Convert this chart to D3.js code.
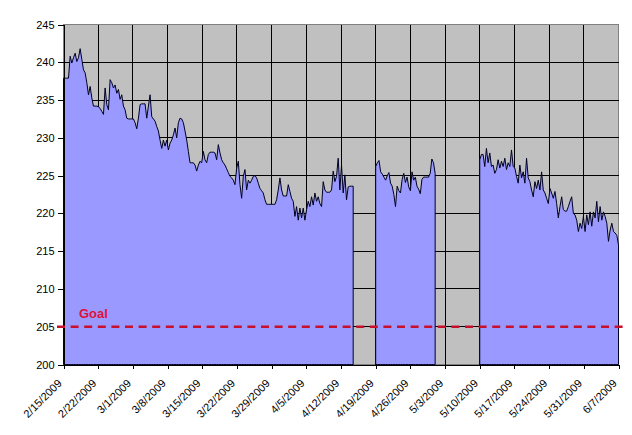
<!DOCTYPE html>
<html>
<head>
<meta charset="utf-8">
<script src="https://cdn.jsdelivr.net/npm/d3@7"></script>
<style>
    body { margin: 0; background: #fff; }
    text { font-family: Arial, "Liberation Sans", sans-serif; }
</style>
</head>
<body>
<div id="chart"></div>
<script>
// weight readings, about three a day
const seg1Weights = [
    237.9, 237.9, 237.9, 237.9, 240.8, 239.9, 240.6, 241.2, 240.1, 240.6,
    241.8, 240.4, 239.0, 238.6, 237.3, 235.7, 236.8, 235.3, 234.2, 234.2,
    234.2, 234.1, 233.9, 233.5, 233.1, 236.6, 234.4, 233.7, 237.7, 237.3,
    236.6, 237.0, 235.9, 236.4, 235.1, 235.7, 234.2, 233.7, 232.6, 232.5,
    232.5, 232.5, 232.5, 232.0, 231.2, 232.6, 234.4, 234.5, 234.5, 234.5,
    232.6, 234.2, 235.7, 232.8, 232.5, 232.2, 231.5, 230.9, 229.7, 228.6,
    229.7, 228.9, 229.7, 228.4, 229.3, 229.7, 230.4, 231.3, 230.0, 232.0,
    232.6, 232.5, 232.0, 230.9, 229.7, 228.2, 226.7, 226.7, 226.7,
    226.4, 225.6, 226.4, 226.9, 226.7, 228.2, 227.1, 226.7, 227.8, 228.1,
    228.1, 228.1, 228.0, 227.1, 229.1, 228.0, 227.1, 226.7, 226.4, 225.9,
    225.4, 224.9, 224.7, 224.4, 223.8, 226.0, 226.9, 223.8, 222.0, 224.9,
    225.8, 223.1, 224.4, 224.0, 224.4, 224.9, 225.0, 224.7, 224.0, 223.3,
    223.0, 222.7, 221.8, 221.2, 221.2, 221.2, 221.2, 221.2, 221.2, 221.8,
    223.1, 224.7, 223.1, 222.3, 222.3, 222.3, 223.8, 222.9, 222.0, 221.6,
    219.6, 220.9, 219.1, 220.7, 219.4, 220.7, 219.1, 220.5, 221.6, 220.9,
    222.2, 221.1, 222.7, 221.6, 222.2, 221.3, 220.9, 224.2, 223.1, 222.8,
    222.8, 222.8, 223.1, 225.6, 224.2, 224.9, 227.3, 223.1, 226.4, 222.7,
    225.1, 221.8, 223.5, 223.6, 223.6, 223.6
];
const seg2Weights = [
    226.2, 226.7, 227.0, 225.5, 225.2, 224.8, 224.4, 225.0, 225.4, 224.0,
    223.6, 222.5, 220.9, 223.6, 223.0, 222.7, 224.5, 225.3, 224.1, 224.8,
    223.5, 223.0, 225.5, 224.4, 224.8, 223.6, 223.2, 222.6, 224.5, 224.8,
    224.8, 224.8, 224.8, 225.3, 227.2, 226.7, 225.3
];
const seg3Weights = [
    227.1, 227.8, 227.8, 226.2, 228.6, 226.7, 228.0, 226.2, 226.4, 225.3,
    225.8, 227.1, 226.0, 226.9, 226.2, 227.3, 225.8, 226.7, 226.2, 228.4,
    226.2, 226.0, 224.9, 224.0, 226.4, 224.7, 225.5, 224.0, 227.3, 224.7,
    224.2, 223.1, 222.2, 224.2, 223.3, 224.4, 223.1, 225.5, 223.1, 222.7,
    222.0, 221.3, 223.3, 222.7, 222.0, 222.9, 221.3, 219.4, 220.9, 222.2,
    220.5, 220.3, 220.3, 220.9, 221.6, 222.2, 220.0, 219.8, 219.1, 217.6,
    218.7, 218.0, 219.6, 217.6, 219.8, 218.5, 220.2, 218.3, 220.2, 219.4,
    221.6, 218.9, 220.9, 219.1, 220.2, 219.6, 218.7, 216.3, 217.8, 218.7,
    217.6, 217.4, 217.1, 215.8
];
// first and last reading of each stretch
const segStarts = ["2009-02-15T00:00", "2009-04-19T00:00", "2009-05-10T00:00"];
const segEnds = ["2009-04-14T11:00", "2009-05-01T00:00", "2009-06-07T00:00"];

const xTickLabels = ["2/15/2009", "2/22/2009", "3/1/2009", "3/8/2009", "3/15/2009", "3/22/2009",
    "3/29/2009", "4/5/2009", "4/12/2009", "4/19/2009", "4/26/2009", "5/3/2009", "5/10/2009",
    "5/17/2009", "5/24/2009", "5/31/2009", "6/7/2009"];
const yTicks = [200, 205, 210, 215, 220, 225, 230, 235, 240, 245];
const goal = 205;

(function () {
    const parseTick = d3.utcParse("%m/%d/%Y");
    const parseTime = d3.utcParse("%Y-%m-%dT%H:%M");

    var margin = {top: 24.5, left: 63.5, right: 618.5, bottom: 364.5};

    var svg = d3.select("#chart").append("svg")
        .attr("width", 632)
        .attr("height", 435);

    var x = d3.scaleUtc()
        .domain([parseTick(xTickLabels[0]), parseTick(xTickLabels[xTickLabels.length - 1])])
        .range([margin.left, margin.right]);
    var y = d3.scaleLinear()
        .domain([200, 245])
        .range([margin.bottom, margin.top]);

    // build the point lists, readings spread evenly inside each stretch
    const segments = [seg1Weights, seg2Weights, seg3Weights].map((vals, s) => {
        const t0 = parseTime(segStarts[s]).getTime();
        const t1 = parseTime(segEnds[s]).getTime();
        return vals.map((v, i) => ({
            date: new Date(t0 + (t1 - t0) * i / (vals.length - 1)),
            weight: v
        }));
    });

    // plot background
    svg.append("rect")
        .attr("x", margin.left)
        .attr("y", margin.top)
        .attr("width", margin.right - margin.left)
        .attr("height", margin.bottom - margin.top)
        .style("fill", "#c0c0c0")
        .style("stroke", "#808080")
        .style("shape-rendering", "crispEdges");

    // grid lines
    const grid = svg.append("g").style("shape-rendering", "crispEdges");
    grid.selectAll(".vgrid")
        .data(xTickLabels.slice(1, -1))
        .enter().append("line")
        .attr("x1", d => x(parseTick(d)))
        .attr("x2", d => x(parseTick(d)))
        .attr("y1", margin.top)
        .attr("y2", margin.bottom)
        .style("stroke", "#000");
    grid.selectAll(".hgrid")
        .data(yTicks.slice(1, -1))
        .enter().append("line")
        .attr("x1", margin.left)
        .attr("x2", margin.right)
        .attr("y1", d => y(d))
        .attr("y2", d => y(d))
        .style("stroke", "#000");

    var area = d3.area()
        .x(d => x(d.date))
        .y0(y(200))
        .y1(d => y(d.weight));

    svg.selectAll(".area")
        .data(segments)
        .enter().append("path")
        .attr("class", "area")
        .attr("d", area)
        .style("fill", "#9999ff")
        .style("stroke", "#000022")
        .style("stroke-width", 1)
        .style("stroke-linejoin", "miter");

    // x axis
    const xAxis = svg.append("g")
        .attr("transform", "translate(0," + margin.bottom + ")")
        .call(d3.axisBottom(x)
            .tickValues(xTickLabels.map(parseTick))
            .tickSize(4)
            .tickSizeOuter(0)
            .tickFormat((d, i) => xTickLabels[i]));
    xAxis.select(".domain").style("stroke", "#000");
    xAxis.selectAll("line").style("stroke", "#000");
    xAxis.selectAll("text")
        .attr("y", 0)
        .attr("x", 0)
        .attr("dy", 0)
        .attr("transform", "translate(-1.5,19.5) rotate(-45)")
        .style("text-anchor", "end")
        .style("font-size", "11px")
        .style("fill", "#000");

    // y axis
    const yAxis = svg.append("g")
        .attr("transform", "translate(" + margin.left + ",0)")
        .call(d3.axisLeft(y)
            .tickValues(yTicks)
            .tickSize(6)
            .tickSizeOuter(0)
            .tickPadding(3));
    yAxis.select(".domain").style("stroke", "#000");
    yAxis.selectAll("line").style("stroke", "#000");
    yAxis.selectAll("text")
        .style("font-size", "11px")
        .style("fill", "#000");
    xAxis.style("shape-rendering", "crispEdges");
    yAxis.style("shape-rendering", "crispEdges");

    // goal line
    svg.append("line")
        .attr("x1", 57)
        .attr("x2", 625)
        .attr("y1", y(goal))
        .attr("y2", y(goal))
        .style("stroke", "#c8102e")
        .style("stroke-width", 2.5)
        .style("stroke-dasharray", "8,5.6");

    svg.append("text")
        .attr("x", 79)
        .attr("y", y(goal) - 9)
        .style("font-size", "13px")
        .style("font-weight", "bold")
        .style("fill", "#e0103a")
        .text("Goal");
})();
</script>
</body>
</html>
